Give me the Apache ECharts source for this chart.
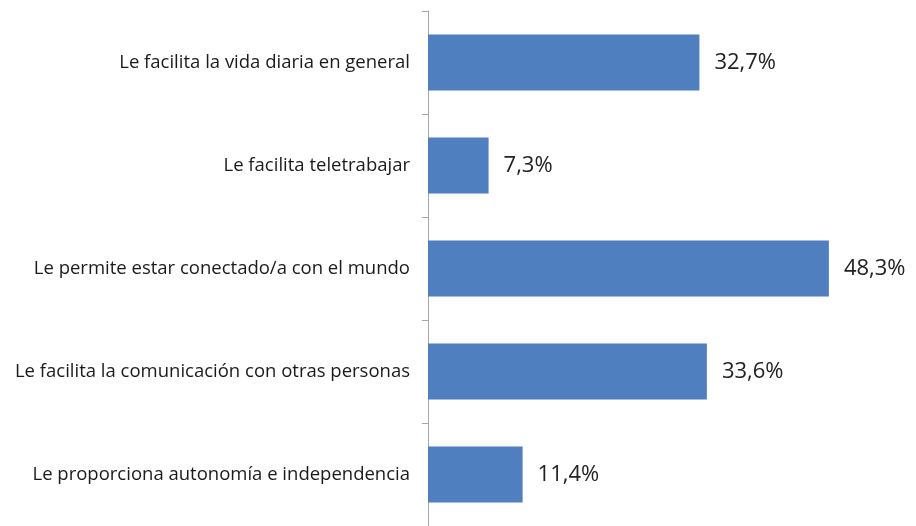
<!DOCTYPE html>
<html>
<head>
<meta charset="utf-8">
<script src="https://cdn.jsdelivr.net/npm/echarts@6/dist/echarts.min.js"></script>
<style>
    html, body { margin: 0; padding: 0; background: #fff; }
    #chart { width: 916px; height: 526px; }
</style>
</head>
<body>
<div id="chart"></div>
<script>
var categories = [
    'Le facilita la vida diaria en general',
    'Le facilita teletrabajar',
    'Le permite estar conectado/a con el mundo',
    'Le facilita la comunicación con otras personas',
    'Le proporciona autonomía e independencia'
];
var values = [32.7, 7.3, 48.3, 33.6, 11.4];

var chart = echarts.init(document.getElementById('chart'));

chart.setOption({
    animation: false,
    grid: {
        left: 428,
        right: 73,
        top: 11,
        height: 517
    },
    xAxis: {
        type: 'value',
        min: 0,
        max: 50,
        show: false
    },
    yAxis: {
        type: 'category',
        inverse: true,
        data: categories,
        axisLine: { lineStyle: { color: '#a6a6a6', width: 1 } },
        axisTick: { show: true, length: 6, inside: false, lineStyle: { color: '#a6a6a6' } },
        axisLabel: {
            margin: 18,
            fontFamily: 'Open Sans',
            fontSize: 18.5,
            color: '#1a1a1a'
        }
    },
    series: [
        {
            type: 'bar',
            data: values,
            barWidth: 56,
            itemStyle: { color: '#4f7fbf' },
            label: {
                show: true,
                position: 'right',
                distance: 15,
                fontFamily: 'Open Sans',
                fontSize: 22,
                color: '#222',
                formatter: function (p) {
                    return p.value.toFixed(1).replace('.', ',') + '%';
                }
            }
        }
    ]
});
</script>
</body>
</html>
